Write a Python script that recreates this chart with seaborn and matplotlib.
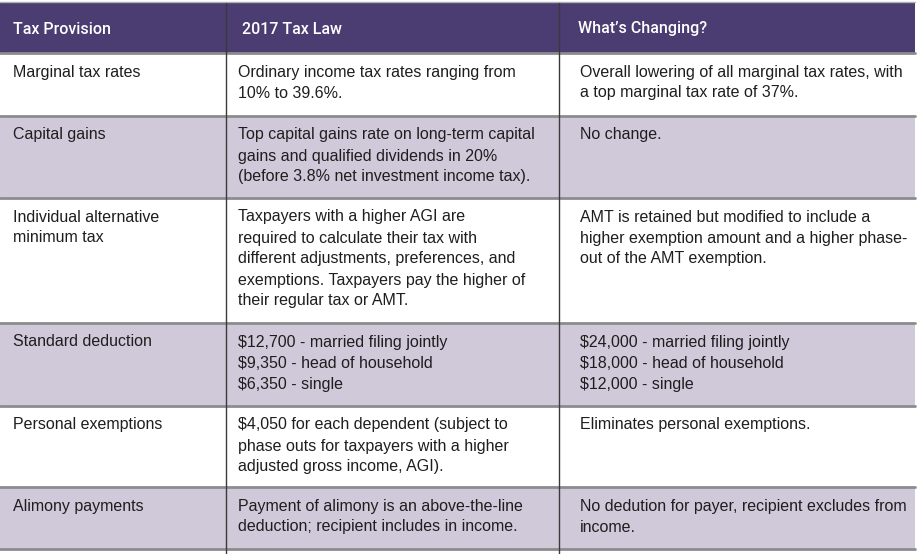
import matplotlib
matplotlib.use('Agg')
import matplotlib.pyplot as plt
import seaborn as sns

# Table contents (one list per column, wrapped lines as in the original)
headers = ["Tax Provision", "2017 Tax Law", "What\u2019s Changing?"]

provisions = [
    ["Marginal tax rates"],
    ["Capital gains"],
    ["Individual alternative", "minimum tax"],
    ["Standard deduction"],
    ["Personal exemptions"],
    ["Alimony payments"],
]

law_2017 = [
    ["Ordinary income tax rates ranging from", "10% to 39.6%."],
    ["Top capital gains rate on long-term capital",
     "gains and qualified dividends in 20%",
     "(before 3.8% net investment income tax)."],
    ["Taxpayers with a higher AGI are",
     "required to calculate their tax with",
     "different adjustments, preferences, and",
     "exemptions. Taxpayers pay the higher of",
     "their regular tax or AMT."],
    ["$12,700 - married filing jointly",
     "$9,350 - head of household",
     "$6,350 - single"],
    ["$4,050 for each dependent (subject to",
     "phase outs for taxpayers with a higher",
     "adjusted gross income, AGI)."],
    ["Payment of alimony is an above-the-line",
     "deduction; recipient includes in income."],
]

changes = [
    ["Overall lowering of all marginal tax rates, with",
     "a top marginal tax rate of 37%."],
    ["No change."],
    ["AMT is retained but modified to include a",
     "higher exemption amount and a higher phase-",
     "out of the AMT exemption."],
    ["$24,000 - married filing jointly",
     "$18,000 - head of household",
     "$12,000 - single"],
    ["Eliminates personal exemptions."],
    ["No dedution for payer, recipient excludes from",
     "income."],
]

# layout in pixels
row_edges = [3, 53, 116, 198, 323, 406, 487, 549]
col_edges = [0, 226, 559, 915]
text_x = [13, 238, 580]
header_x = [13, 242, 578]
line_pitch = 21
first_line = 19

purple = "#4b3c72"
lavender = "#d0c9da"

sns.set_theme(style="white")
plt.rcParams['font.family'] = ['Liberation Sans', 'DejaVu Sans']

fig = plt.figure(figsize=(9.18, 5.54), dpi=100)
ax = fig.add_axes([0, 0, 1, 1])
ax.set_xlim(0, 918)
ax.set_ylim(554, 0)
ax.axis('off')

# header band
ax.axhspan(row_edges[0], row_edges[1], xmin=0, xmax=col_edges[-1] / 918,
           color=purple, lw=0)
for x, h in zip(header_x, headers):
    ax.text(x, (row_edges[0] + row_edges[1]) / 2 + 1, h, color="white",
            fontsize=11.5, fontweight="medium", family=['Roboto', 'DejaVu Sans'],
            va="center", ha="left")

# body rows, alternating white / lavender
columns = [provisions, law_2017, changes]
for i in range(len(provisions)):
    top, bottom = row_edges[i + 1], row_edges[i + 2]
    if i % 2 == 1:
        ax.axhspan(top, bottom, xmin=0, xmax=col_edges[-1] / 918,
                   color=lavender, lw=0)
    for x, col in zip(text_x, columns):
        for j, line in enumerate(col[i]):
            ax.text(x, top + first_line + j * line_pitch, line,
                    color="#1e1e1e", fontsize=11.5, va="center", ha="left")

# horizontal rules
ax.plot([0, col_edges[-1]], [2, 2], color="#b0b0b0", lw=1)
for y in row_edges[1:]:
    ax.plot([0, col_edges[-1]], [y, y], color="#8c8c8c", lw=2)

# vertical rules
for x in col_edges[1:3]:
    ax.plot([x, x], [row_edges[0], 554], color="#3a3a3a", lw=1)

fig.savefig("out.png", dpi=100)
